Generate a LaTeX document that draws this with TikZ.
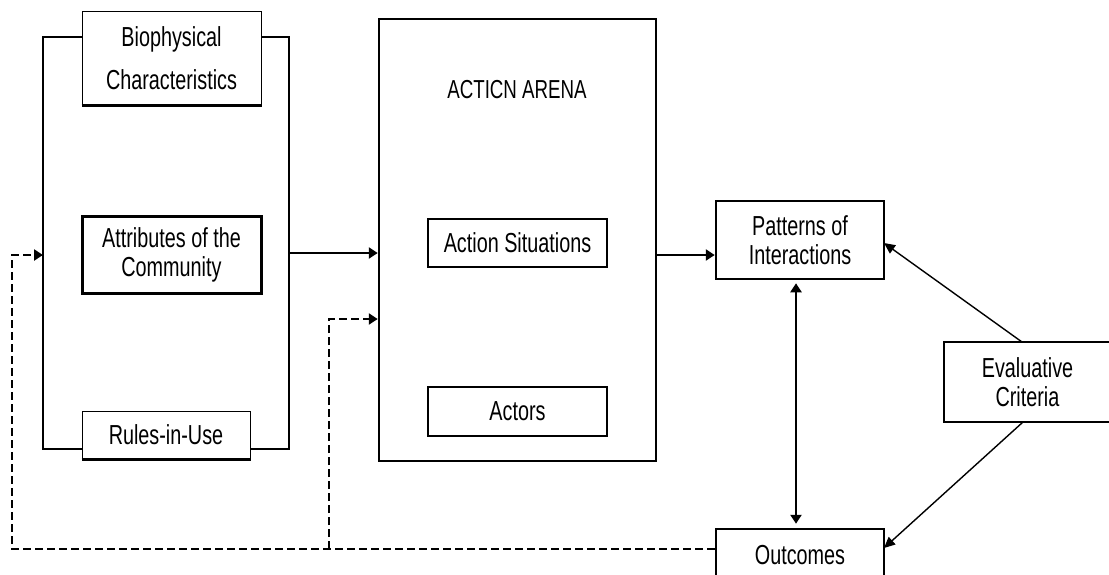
\documentclass[tikz,border=0pt]{standalone}
\usepackage{fontspec}
\setmainfont[FakeStretch=0.72]{Liberation Sans}
\usetikzlibrary{arrows.meta}
\newcommand{\dfs}{\fontsize{27.5}{29}\selectfont}
\begin{document}
\begin{tikzpicture}[x=1pt,y=-1pt,
  box/.style={draw, line width=2.5pt, inner sep=0pt, align=center, font=\dfs},
  thinbox/.style={box, line width=1pt},
  bracket/.style={line width=2.5pt},
  conn/.style={line width=2.5pt, -{Triangle[length=9pt,width=11pt]}},
  dashconn/.style={conn, dash pattern=on 8pt off 4pt},
  thinconn/.style={line width=1.4pt, -{Triangle[length=11pt,width=10pt]}}]
\clip (0,0) rectangle (1109,574);
\fill[white] (0,0) rectangle (1109,574);
% left group
\node[thinbox, minimum width=179pt, minimum height=94pt] (bio) at (171.5,58) {Biophysical\\[14pt]Characteristics};
\draw[line width=3pt] (bio.south west) -- (bio.south east);
\node[box, line width=3pt, minimum width=179pt, minimum height=77pt] (attr) at (171.5,254.5) {Attributes of the\\Community};
\node[thinbox, minimum width=168pt, minimum height=48pt] (rules) at (166,435) {Rules-in-Use};
\draw[line width=3pt] (rules.south west) -- (rules.south east);
\coordinate (btl) at (43,37);
\coordinate (bbl) at (43,449);
\coordinate (btr) at (289,37);
\coordinate (bbr) at (289,449);
\coordinate (bin) at (43,255);
\coordinate (bout) at (289,253);
\draw[bracket] (bio.west |- btl) -- (btl) -- (bbl) -- (rules.west |- bbl);
\draw[bracket] (bio.east |- btr) -- (btr) -- (bbr) -- (rules.east |- bbr);
% action arena
\node[box, minimum width=277pt, minimum height=442pt] (arena) at (517.5,240) {};
\node[font=\fontsize{26}{28}\selectfont, inner sep=0pt] (arenatitle) at (517,90) {ACTICN ARENA};
\node[box, minimum width=179pt, minimum height=48pt] (sit) at (517.5,243) {Action Situations};
\node[box, minimum width=179pt, minimum height=49pt] (act) at (517.5,411.5) {Actors};
% right part
\node[box, minimum width=168pt, minimum height=78pt] (pat) at (800,240) {Patterns of\\Interactions};
\node[box, minimum width=168pt, minimum height=52pt] (out) at (800,555) {Outcomes};
\node[box, minimum width=167pt, minimum height=80pt] (eval) at (1027.5,382) {Evaluative\\Criteria};
% connectors
\draw[conn] (bout) -- (arena.west |- bout);
\coordinate (ay) at (0,255);
\draw[conn] (arena.east |- ay) -- (pat.west |- ay);
\draw[conn, {Triangle[length=9pt,width=11pt]}-{Triangle[length=9pt,width=11pt]}, shorten <=3pt, shorten >=4pt] ([xshift=-4pt]pat.south) -- ([xshift=-4pt]out.north);
\coordinate (et) at (1022,342);
\coordinate (eb) at (1023,422);
\coordinate (pr) at (884,243);
\coordinate (orr) at (884,548);
\draw[thinconn] (et) -- (pr);
\draw[thinconn] (eb) -- (orr);
% dashed feedback
\coordinate (dl) at (12,549);
\coordinate (dt) at (12,255);
\coordinate (dm) at (329,549);
\coordinate (dmt) at (329,319);
\draw[dashconn] (out.west |- dl) -- (dl) -- (dt) -- (bin);
\draw[dashconn] (dm) -- (dmt) -- (arena.west |- dmt);
\end{tikzpicture}
\end{document}
